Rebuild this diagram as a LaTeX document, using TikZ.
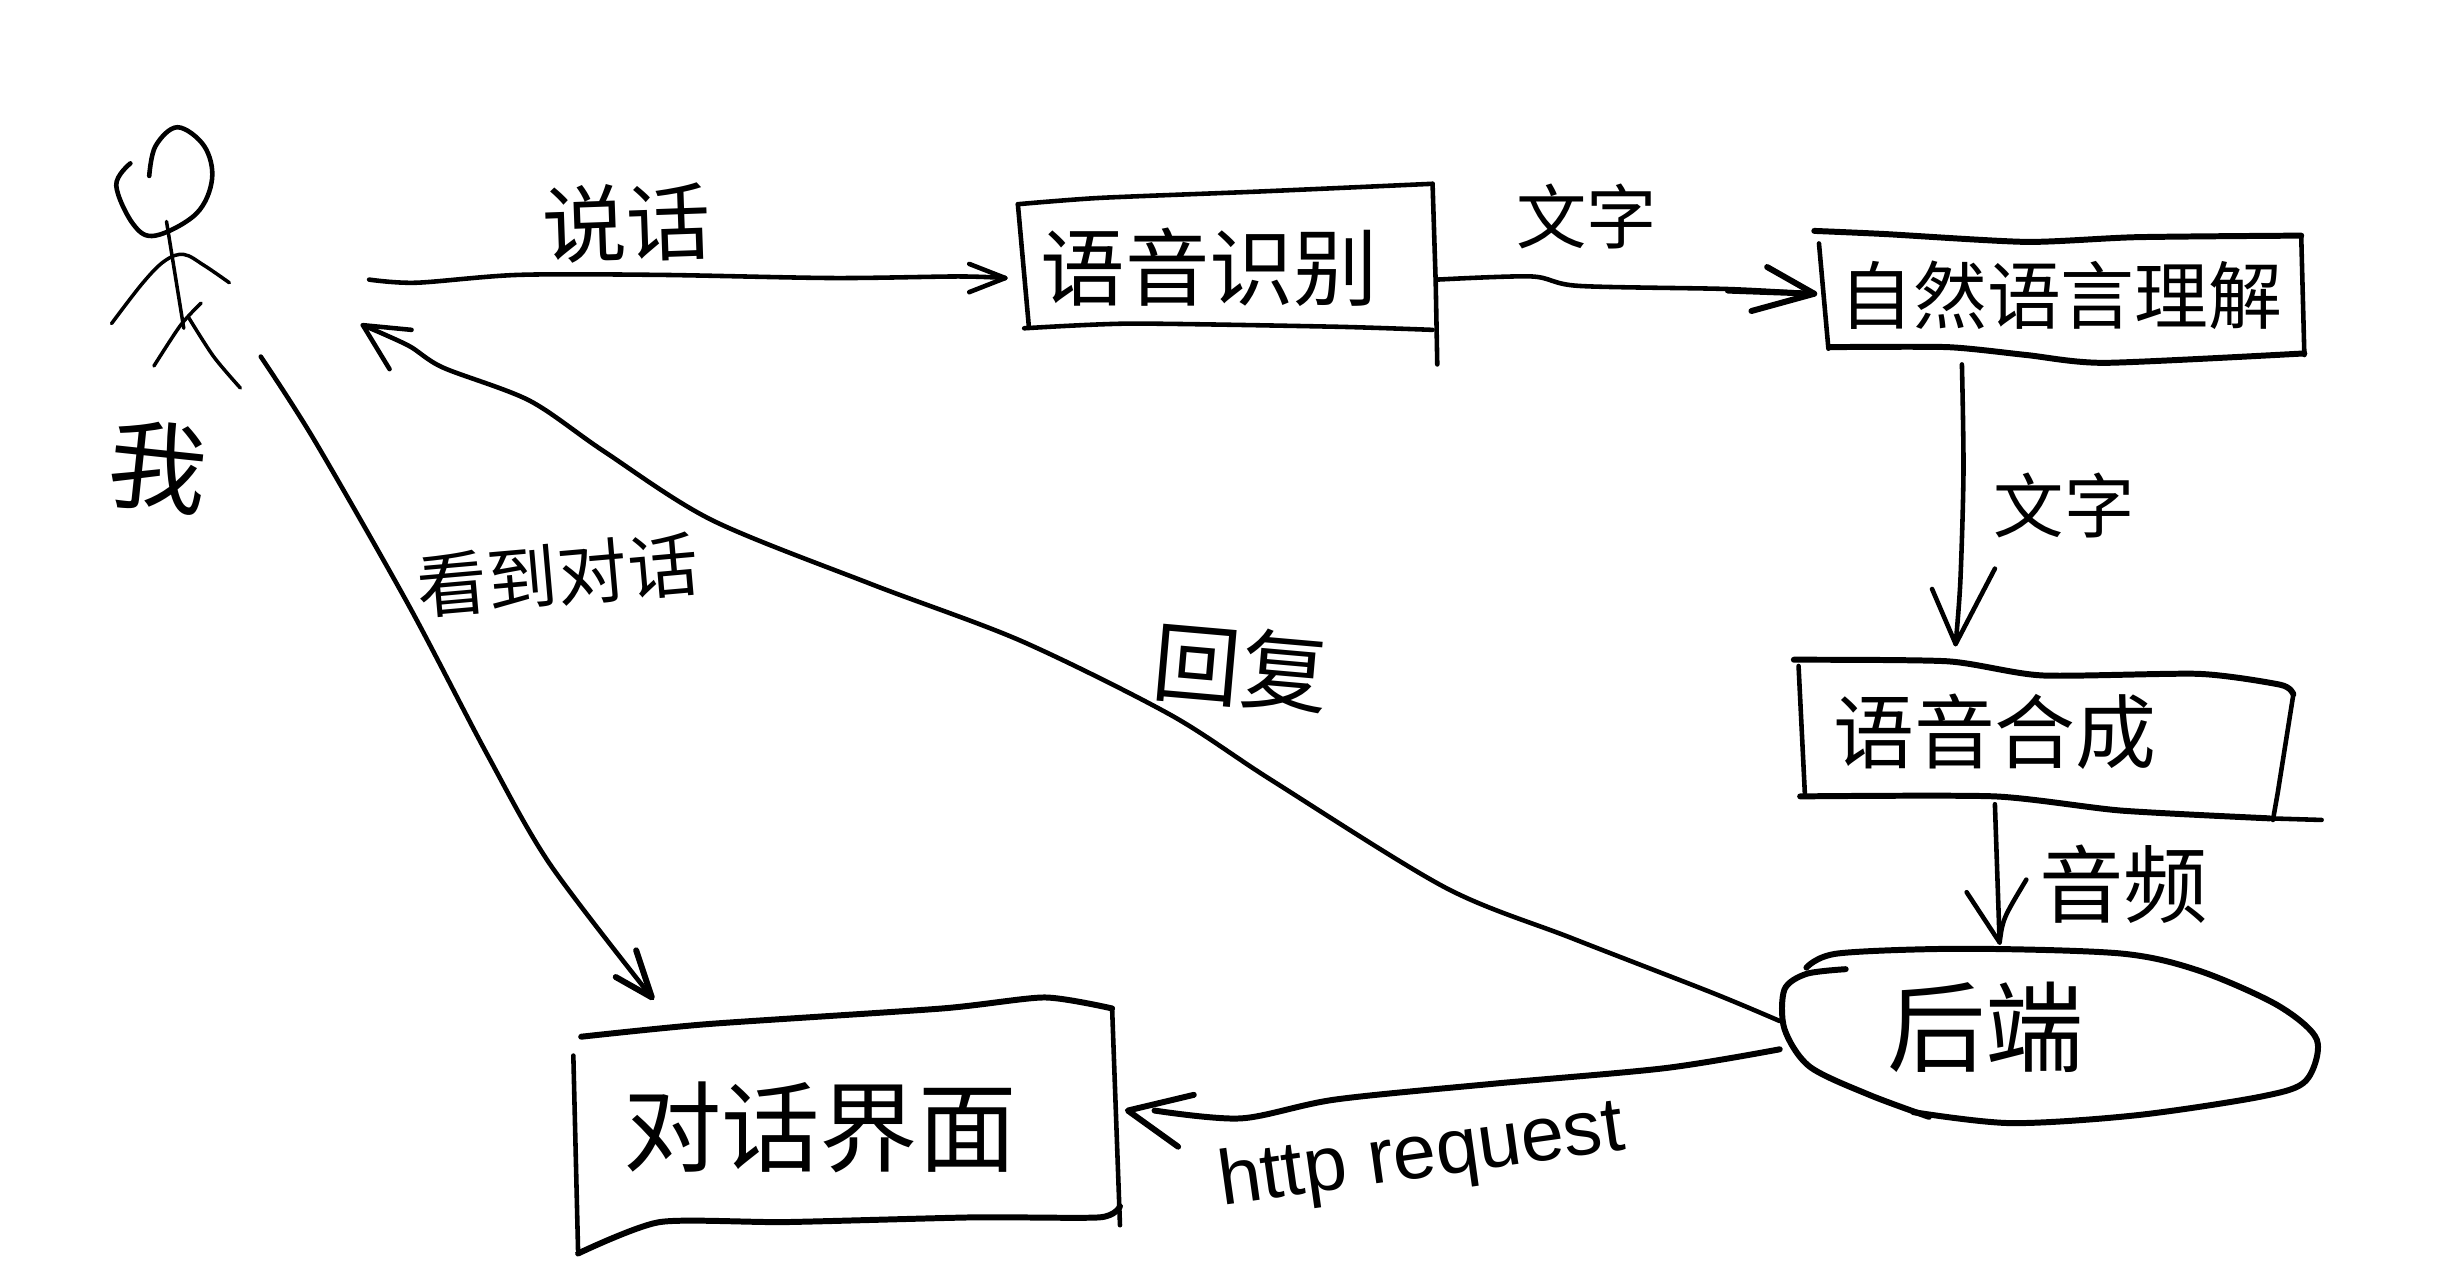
\documentclass[tikz,border=0pt]{standalone}
\usepackage{fontspec}
\newfontfamily\cjk{Noto Sans CJK SC}
\newfontfamily\latinhand{Liberation Sans}
\tikzset{
  ink/.style={line width=1.3pt,line cap=round,line join=round,black},
  inkthin/.style={line width=1pt,line cap=round,line join=round,black},
  inkbold/.style={line width=1.7pt,line cap=round,line join=round,black},
  hand/.style={inner sep=0pt,text=black,font=\cjk\fontsize{#1}{#1}\selectfont},
}
\begin{document}
\begin{tikzpicture}[x=0.015708cm,y=-0.015708cm]
\useasboundingbox[fill=white] (0,0) rectangle (1568,812);

% stick figure
\draw[ink] plot[smooth,tension=.6] coordinates {(95,112) (99,93) (113,81) (130,93) (135,114) (125,136) (99,150) (85,143) (74,118) (83,104)};
\draw[inkthin] (106,141) -- (117,209);
\draw[inkthin] plot[smooth,tension=.6] coordinates {(71,206) (91,180) (105,166) (117,162) (130,169) (146,180)};
\draw[inkthin] plot[smooth,tension=.5] coordinates {(128,193) (115,207) (98,233)};
\draw[inkthin] plot[smooth,tension=.5] coordinates {(120,202) (136,227) (153,247)};
\node[hand=28,rotate=-6] (me) at (101,297) {我};

% boxes
\node[hand=24] (asr) at (770,170) {语音识别};
\draw[ink] plot[smooth,tension=.4] coordinates {(648,130) (700,126) (800,122) (912,117)};
\draw[ink] (648,130) -- (655,208);
\draw[ink] plot[smooth,tension=.4] coordinates {(652,209) (720,206) (850,208) (912,210)};
\draw[ink] (912,117) -- (914,180) -- (915,232);

\node[hand=21] (nlu) at (1312,188) {自然语言理解};
\draw[inkbold] plot[smooth,tension=.4] coordinates {(1155,147) (1200,149) (1290,154) (1360,151) (1465,150)};
\draw[ink] (1158,155) -- (1164,222);
\draw[inkbold] plot[smooth,tension=.4] coordinates {(1165,221) (1240,221) (1290,226) (1340,231) (1467,225)};
\draw[ink] (1465,150) -- (1467,226);

\node[hand=23] (tts) at (1270,466) {语音合成};
\draw[inkbold] plot[smooth,tension=.4] coordinates {(1142,420) (1240,421) (1300,430) (1400,429) (1452,436) (1460,442)};
\draw[ink] (1145,424) -- (1149,505);
\draw[ink] (1460,442) -- (1450,505) -- (1447,522);
\draw[inkbold] plot[smooth,tension=.4] coordinates {(1146,507) (1270,507) (1350,516) (1445,521)};
\draw[ink] (1445,521) -- (1478,522);

\node[hand=28] (backend) at (1264,654) {后端};
\draw[inkbold] plot[smooth,tension=.5] coordinates {(1150,616) (1170,607) (1250,604) (1350,607) (1400,618) (1450,640) (1475,662) (1468,688) (1440,698) (1360,710) (1280,715) (1218,708)};
\draw[inkbold] plot[smooth,tension=.5] coordinates {(1228,711) (1190,697) (1152,679) (1136,655) (1136,630) (1150,620) (1175,617)};

\node[hand=28] (chat) at (522,718) {对话界面};
\draw[inkbold] plot[smooth,tension=.4] coordinates {(370,660) (450,652) (600,642) (665,635) (708,642)};
\draw[ink] (365,672) -- (368,796);
\draw[inkbold] plot[smooth,tension=.4] coordinates {(368,798) (420,778) (500,778) (620,775) (700,775) (713,768)};
\draw[ink] (708,642) -- (713,780);

% connector ends
\coordinate (meOut) at (235,178);
\coordinate (asrIn) at (640,177);
\coordinate (asrOut) at (915,178);
\coordinate (nluIn) at (1155,187);
\coordinate (nluOut) at (1249,232);
\coordinate (ttsIn) at (1245,410);
\coordinate (ttsOut) at (1270,512);
\coordinate (beIn) at (1273,600);
\coordinate (beReply) at (1133,650);
\coordinate (meIn) at (231,207);
\coordinate (beHttp) at (1133,668);
\coordinate (chatIn) at (718,707);
\coordinate (meSee) at (166,227);
\coordinate (chatTop) at (415,635);

% connectors with hand-drawn heads
\draw[ink] plot[smooth,tension=.5] coordinates {(meOut) (265,180) (330,175) (420,175) (530,177) (610,176) (asrIn)};
\draw[ink] (617,168) -- (asrIn) -- (617,186);
\draw[ink] plot[smooth,tension=.5] coordinates {(asrOut) (975,176) (1005,182) (1100,184) (nluIn)};
\draw[inkbold] (1125,170) -- (nluIn) -- (1115,198);
\draw[inkbold] (1100,185) -- (nluIn);
\draw[ink] plot[smooth,tension=.5] coordinates {(nluOut) (1250,300) (1248,370) (ttsIn)};
\draw[ink] (1230,375) -- (ttsIn) -- (1270,362);
\draw[ink] (ttsOut) -- (beIn);
\draw[ink] (1252,568) -- (beIn) .. controls (1275,585) .. (1290,560);
\draw[ink] plot[smooth,tension=.5] coordinates {(beReply) (1090,632) (1000,597) (920,565) (810,497) (745,455) (650,408) (555,372) (453,331) (384,287) (337,255) (282,234) (260,220) (meIn)};
\draw[ink] (262,210) -- (meIn) -- (248,235);
\draw[inkbold] plot[smooth,tension=.5] coordinates {(beHttp) (1060,680) (950,690) (850,700) (790,712) (735,707)};
\draw[inkbold] (760,697) -- (chatIn) -- (750,730);
\draw[ink] plot[smooth,tension=.5] coordinates {(meSee) (200,280) (260,385) (310,480) (350,550) (chatTop)};
\draw[inkbold] (392,622) -- (chatTop) -- (405,605);

% connector labels
\node[hand=24,rotate=2] (lblSpeak) at (399,142) {说话};
\node[hand=20] (lblText1) at (1010,138) {文字};
\node[hand=20] (lblText2) at (1314,322) {文字};
\node[hand=24] (lblAudio) at (1352,563) {音频};
\node[hand=25,rotate=-5] (lblReply) at (790,425) {回复};
\node[hand=20,rotate=5] (lblSee) at (355,366) {看到对话};
\node[inner sep=0pt,rotate=8,font=\latinhand\fontsize{22}{22}\selectfont] (lblHttp) at (905,737) {http request};
\end{tikzpicture}
\end{document}
